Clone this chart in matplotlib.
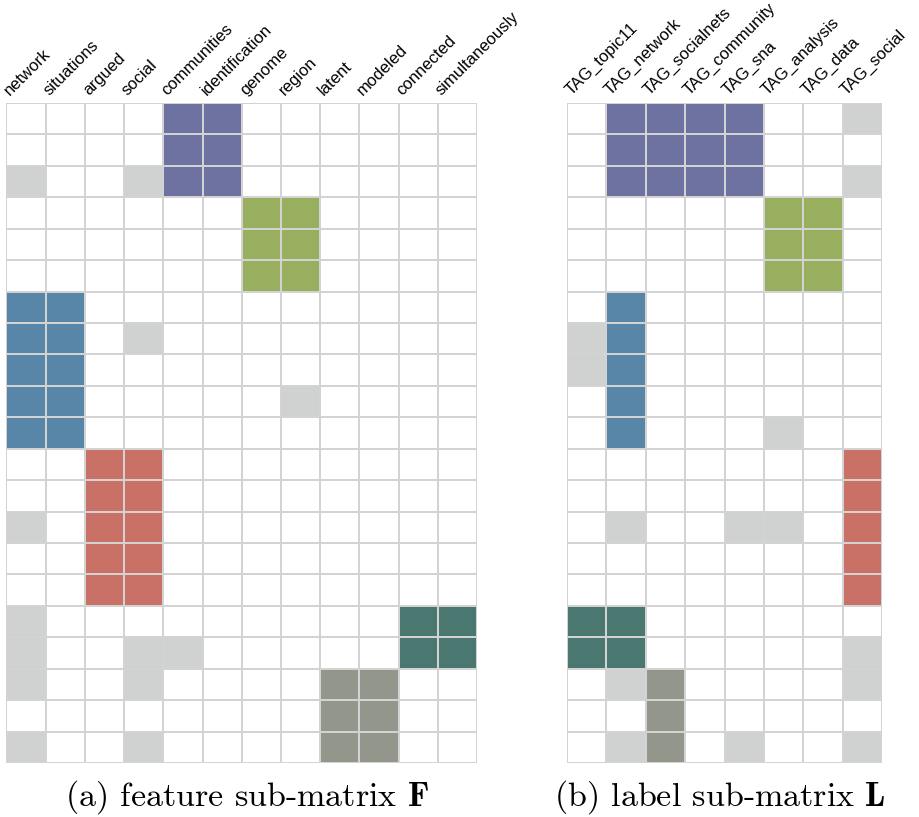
import numpy as np
import matplotlib
matplotlib.use('Agg')
import matplotlib.pyplot as plt
from matplotlib.colors import ListedColormap

# column names of the two sub-matrices
feature_words = ['network', 'situations', 'argued', 'social', 'communities',
                 'identification', 'genome', 'region', 'latent', 'modeled',
                 'connected', 'simultaneously']
label_tags = ['TAG_topic11', 'TAG_network', 'TAG_socialnets', 'TAG_community',
              'TAG_sna', 'TAG_analysis', 'TAG_data', 'TAG_social']

# one string per row: '.' empty, 'g' weak entry, capitals = co-cluster
feature_rows = [
    '....PP......',
    '....PP......',
    'g..gPP......',
    '......GG....',
    '......GG....',
    '......GG....',
    'BB..........',
    'BB.g........',
    'BB..........',
    'BB.....g....',
    'BB..........',
    '..RR........',
    '..RR........',
    'g.RR........',
    '..RR........',
    '..RR........',
    'g.........TT',
    'g..gg.....TT',
    'g..g....OO..',
    '........OO..',
    'g..g....OO..',
]
label_rows = [
    '.PPPP..g',
    '.PPPP...',
    '.PPPP..g',
    '.....GG.',
    '.....GG.',
    '.....GG.',
    '.B......',
    'gB......',
    'gB......',
    '.B......',
    '.B...g..',
    '.......R',
    '.......R',
    '.g..gg.R',
    '.......R',
    '.......R',
    'TT......',
    'TT.....g',
    '.gO....g',
    '..O.....',
    '.gO.g..g',
]

codes = '.gPGBRTO'
cell_colors = ['#ffffff', '#d0d2d1', '#6e72a0', '#97af5e', '#5886a8',
               '#c97167', '#4a7870', '#93968a']
cmap = ListedColormap(cell_colors)


def to_matrix(rows):
    return np.array([[codes.index(c) for c in r] for r in rows])


plt.rcParams['mathtext.fontset'] = 'cm'
plt.rcParams['font.family'] = 'Liberation Sans'

fig = plt.figure(figsize=(9.2, 8.17), dpi=100)
ax_f = fig.add_axes([6.5 / 920, 1 - 763 / 817, 470.5 / 920, 660 / 817])
ax_l = fig.add_axes([567 / 920, 1 - 763 / 817, 315 / 920, 660 / 817])

for ax, rows, names in [(ax_f, feature_rows, feature_words),
                        (ax_l, label_rows, label_tags)]:
    m = to_matrix(rows)
    ax.pcolormesh(m, cmap=cmap, vmin=-0.5, vmax=len(cell_colors) - 0.5,
                  edgecolors='#d3d3d3', linewidth=1.1)
    ax.set_xlim(0, m.shape[1])
    ax.set_ylim(m.shape[0], 0)
    ax.set_xticks([])
    ax.set_yticks([])
    for s in ax.spines.values():
        s.set_visible(False)
    # slanted column names above the grid
    for j, name in enumerate(names):
        ax.text(j + 0.1, -0.22, name, rotation=45, rotation_mode='anchor',
                ha='left', va='baseline', fontsize=12, clip_on=False)

fig.text(247 / 920, 1 - 797 / 817, r'(a) feature sub-matrix $\mathbf{F}$',
         family='cmr10', fontsize=24.5, ha='center', va='center')
fig.text(720 / 920, 1 - 797 / 817, r'(b) label sub-matrix $\mathbf{L}$',
         family='cmr10', fontsize=24.5, ha='center', va='center')

fig.savefig('out.png', dpi=100)
